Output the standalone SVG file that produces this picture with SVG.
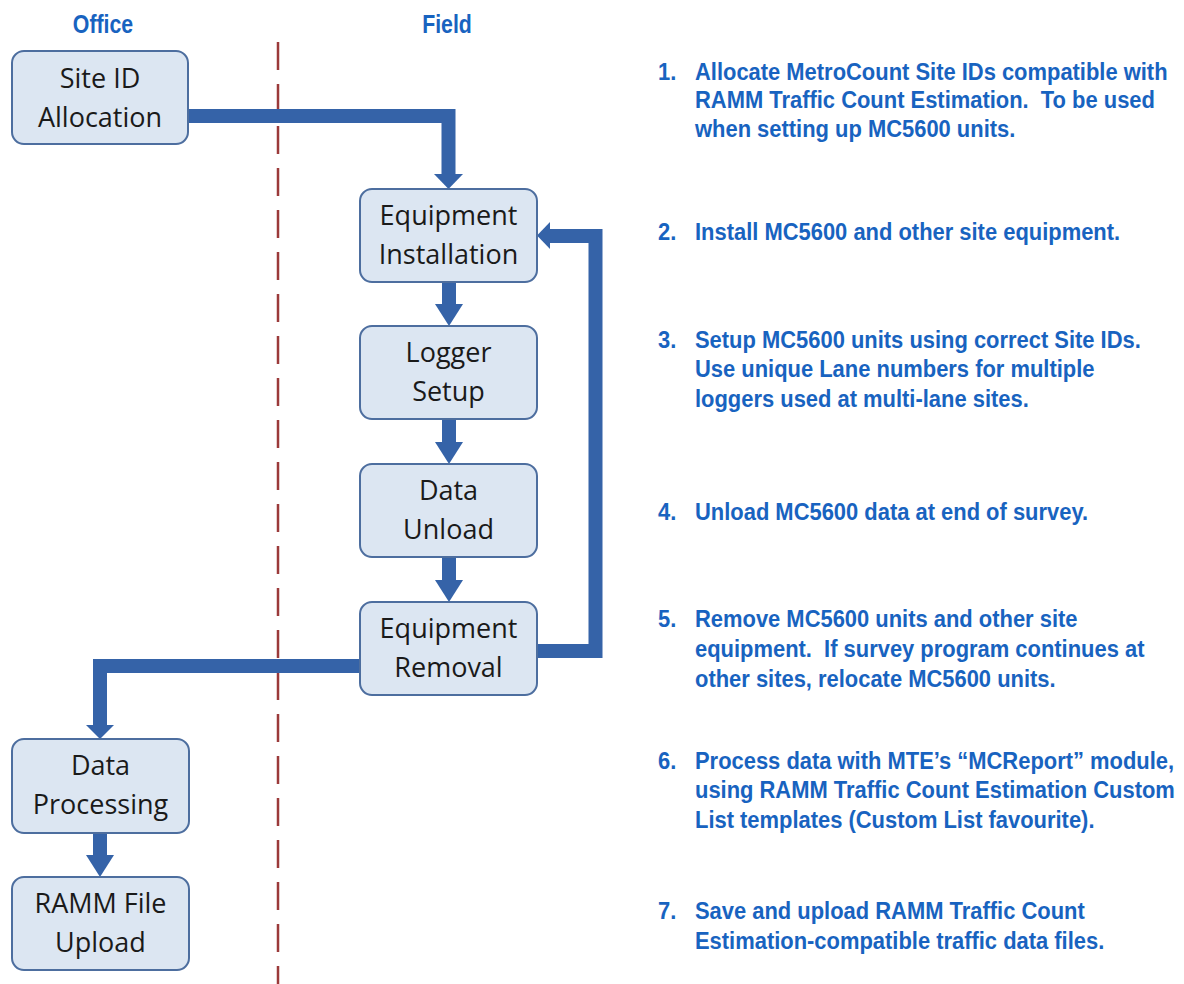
<svg xmlns="http://www.w3.org/2000/svg" width="1184" height="984" viewBox="0 0 1184 984">
<style>
.box{fill:#dce6f2;stroke:#4d6e9f;stroke-width:2}
.nt{font-family:"Open Sans","Noto Sans",sans-serif;font-size:27px;fill:#1a1a1a;text-anchor:middle}
.hd{font-family:"Liberation Sans",Arial,sans-serif;font-weight:bold;font-size:26px;fill:#1863c0;text-anchor:middle}
.it{font-family:"Liberation Sans",Arial,sans-serif;font-weight:bold;font-size:24.7px;fill:#1863c0;white-space:pre}
.cn{fill:none;stroke:#3563a8;stroke-width:14;stroke-linejoin:miter}
.ah{fill:#3563a8}
</style>
<rect width="1184" height="984" fill="#ffffff"/>
<line x1="278" y1="42" x2="278" y2="984" stroke="#9b3a3a" stroke-width="2.5" stroke-dasharray="28 14"/>
<text class="hd" transform="translate(103 33) scale(0.82 1)">Office</text>
<text class="hd" transform="translate(447 33) scale(0.82 1)">Field</text>
<g id="connectors">
<path class="cn" d="M188,116 H448.5 V176"/>
<polygon class="ah" points="434,174 463,174 448.5,189"/>
<path class="cn" d="M449,282 V306"/>
<polygon class="ah" points="435,304 463,304 449,326"/>
<path class="cn" d="M449,419 V444"/>
<polygon class="ah" points="435,442 463,442 449,464"/>
<path class="cn" d="M449,557 V582"/>
<polygon class="ah" points="435,580 463,580 449,602"/>
<path class="cn" d="M537,651 H595.5 V236 H548"/>
<polygon class="ah" points="550,222 550,249 537,235.5"/>
<path class="cn" d="M360,666 H100 V727"/>
<polygon class="ah" points="86,725 114,725 100,739"/>
<path class="cn" d="M100,833 V857"/>
<polygon class="ah" points="86,855 114,855 100,877"/>
</g>
<g id="n1"><rect class="box" x="12" y="51" width="176" height="93" rx="12"/><text class="nt" x="100" y="88">Site ID</text><text class="nt" x="100" y="127">Allocation</text></g>
<g id="n2"><rect class="box" x="360" y="189" width="177" height="93" rx="12"/><text class="nt" x="448.5" y="225">Equipment</text><text class="nt" x="448.5" y="264">Installation</text></g>
<g id="n3"><rect class="box" x="360" y="326" width="177" height="93" rx="12"/><text class="nt" x="448.5" y="362">Logger</text><text class="nt" x="448.5" y="401">Setup</text></g>
<g id="n4"><rect class="box" x="360" y="464" width="177" height="93" rx="12"/><text class="nt" x="448.5" y="500">Data</text><text class="nt" x="448.5" y="539">Unload</text></g>
<g id="n5"><rect class="box" x="360" y="602" width="177" height="93" rx="12"/><text class="nt" x="448.5" y="638">Equipment</text><text class="nt" x="448.5" y="677">Removal</text></g>
<g id="n6"><rect class="box" x="12" y="739" width="177" height="94" rx="12"/><text class="nt" x="100.5" y="775">Data</text><text class="nt" x="100.5" y="814">Processing</text></g>
<g id="n7"><rect class="box" x="12" y="877" width="177" height="93" rx="12"/><text class="nt" x="100.5" y="913">RAMM File</text><text class="nt" x="100.5" y="952">Upload</text></g>
<g id="notes" transform="translate(695 0) scale(0.888 1)" xml:space="preserve">
<text class="it" x="-41.7" y="80">1.</text>
<text class="it" x="0" y="80">Allocate MetroCount Site IDs compatible with</text>
<text class="it" x="0" y="108.5">RAMM Traffic Count Estimation.  To be used</text>
<text class="it" x="0" y="137">when setting up MC5600 units.</text>
<text class="it" x="-41.7" y="240">2.</text>
<text class="it" x="0" y="240">Install MC5600 and other site equipment.</text>
<text class="it" x="-41.7" y="348">3.</text>
<text class="it" x="0" y="348">Setup MC5600 units using correct Site IDs.</text>
<text class="it" x="0" y="377.5">Use unique Lane numbers for multiple</text>
<text class="it" x="0" y="407">loggers used at multi-lane sites.</text>
<text class="it" x="-41.7" y="520">4.</text>
<text class="it" x="0" y="520">Unload MC5600 data at end of survey.</text>
<text class="it" x="-41.7" y="627">5.</text>
<text class="it" x="0" y="627">Remove MC5600 units and other site</text>
<text class="it" x="0" y="657">equipment.  If survey program continues at</text>
<text class="it" x="0" y="687">other sites, relocate MC5600 units.</text>
<text class="it" x="-41.7" y="769">6.</text>
<text class="it" x="0" y="769">Process data with MTE’s “MCReport” module,</text>
<text class="it" x="0" y="798">using RAMM Traffic Count Estimation Custom</text>
<text class="it" x="0" y="828">List templates (Custom List favourite).</text>
<text class="it" x="-41.7" y="919">7.</text>
<text class="it" x="0" y="919">Save and upload RAMM Traffic Count</text>
<text class="it" x="0" y="949">Estimation-compatible traffic data files.</text>
</g>
</svg>
